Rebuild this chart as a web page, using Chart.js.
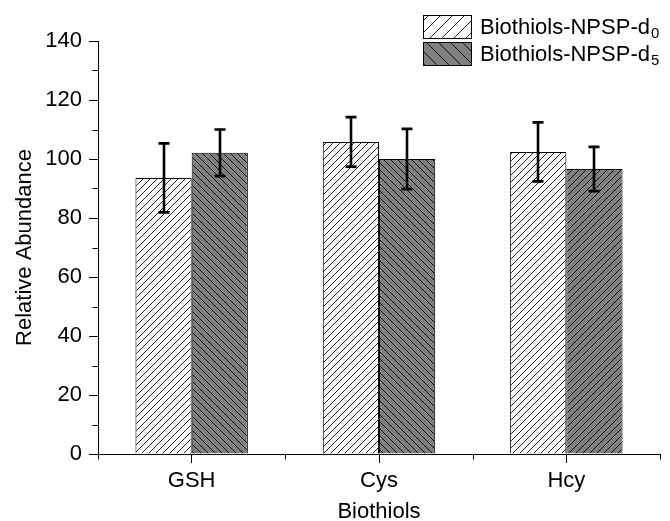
<!DOCTYPE html>
<html><head><meta charset="utf-8">
<script src="https://cdn.jsdelivr.net/npm/chart.js@4.4.1/dist/chart.umd.min.js"></script>
<style>html,body{margin:0;padding:0;background:#fff;} canvas{display:block;}</style>
</head><body>
<canvas id="c" width="670" height="521"></canvas>
<script>
// ---- data ----
const categories = ['GSH', 'Cys', 'Hcy'];
const seriesNames = ['Biothiols-NPSP-d', 'Biothiols-NPSP-d'];
const seriesSubscripts = ['0', '5'];
const d0Values = [93.6, 105.8, 102.4];
const d0Errors = [11.7, 8.4, 10.0];
const d5Values = [102.1, 100.0, 96.6];
const d5Errors = [7.9, 10.2, 7.5];
const yMinorTicks = [10, 30, 50, 70, 90, 110, 130];
const xTitle = 'Biothiols';
const yTitle = 'Relative Abundance';

const FONT = "'Liberation Sans', Arial, sans-serif";
const canvas = document.getElementById('c');
const ctx = canvas.getContext('2d');

function hatch(bg, dir, s, color) {
  const c = document.createElement('canvas');
  c.width = s; c.height = s;
  const g = c.getContext('2d');
  g.fillStyle = bg; g.fillRect(0, 0, s, s);
  g.strokeStyle = color; g.lineWidth = 1;
  g.beginPath();
  if (dir === '/') {
    for (let k = 0; k <= 2; k++) { g.moveTo(-1, k * s + 1); g.lineTo(s + 1, k * s - s - 1); }
  } else {
    for (let k = -1; k <= 1; k++) { g.moveTo(-1, k * s - 1); g.lineTo(s + 1, k * s + s + 1); }
  }
  g.stroke();
  return ctx.createPattern(c, 'repeat');
}

const pWhite = hatch('#ffffff', '/', 7, '#222');
const pGrayBack = hatch('#808080', '\\', 7, '#111');
const pGrayFwd = hatch('#808080', '/', 7, '#111');
const legendPatterns = [hatch('#ffffff', '/', 12, '#222'), hatch('#808080', '\\', 12, '#111')];
const errors = [d0Errors, d5Errors];

const extras = {
  id: 'extras',
  afterDatasetsDraw(chart) {
    const c = chart.ctx, y = chart.scales.y;
    c.save();
    c.strokeStyle = '#000'; c.lineWidth = 2.6;
    chart.data.datasets.forEach((ds, di) => {
      const meta = chart.getDatasetMeta(di);
      meta.data.forEach((bar, i) => {
        const v = ds.data[i], e = errors[di][i];
        const yt = y.getPixelForValue(v + e), yb = y.getPixelForValue(v - e);
        const x = Math.round(bar.x);
        c.beginPath();
        c.moveTo(x, yt); c.lineTo(x, yb);
        c.moveTo(x - 5.5, yt); c.lineTo(x + 5.5, yt);
        c.moveTo(x - 5.5, yb); c.lineTo(x + 5.5, yb);
        c.stroke();
      });
    });
    c.restore();
  },
  afterDraw(chart) {
    const c = chart.ctx, y = chart.scales.y, x = chart.scales.x;
    c.save();
    c.strokeStyle = '#000'; c.lineWidth = 1;
    c.beginPath();
    const ax = Math.round(chart.chartArea.left) + 0.5;
    yMinorTicks.forEach(v => {
      const py = Math.round(y.getPixelForValue(v)) + 0.5;
      c.moveTo(ax - 6, py); c.lineTo(ax, py);
    });
    const by = Math.round(chart.chartArea.bottom) + 0.5;
    for (let i = 0; i <= categories.length; i++) {
      const px = Math.round(x.getPixelForValue(i - 0.5)) + 0.5;
      c.moveTo(px, by); c.lineTo(px, by + 5);
    }
    c.stroke();
    // legend
    const lx = 423, lw = 48, lh = 23, ly = [15, 42];
    seriesNames.forEach((name, i) => {
      c.fillStyle = legendPatterns[i];
      c.fillRect(lx, ly[i], lw, lh);
      c.strokeStyle = '#000'; c.lineWidth = 1;
      c.strokeRect(lx + 0.5, ly[i] + 0.5, lw, lh);
      c.fillStyle = '#000';
      c.textBaseline = 'alphabetic'; c.textAlign = 'left';
      c.font = '22px ' + FONT;
      const base = ly[i] + 19;
      c.fillText(name, 480, base);
      const w = c.measureText(name).width;
      c.font = '15px ' + FONT;
      c.fillText(seriesSubscripts[i], 480 + w + 1, base + 4);
    });
    c.restore();
  }
};

new Chart(ctx, {
  type: 'bar',
  data: {
    labels: categories,
    datasets: [
      { label: seriesNames[0] + seriesSubscripts[0], data: d0Values, backgroundColor: pWhite,
        borderColor: '#000', borderWidth: 1, categoryPercentage: 0.6, barPercentage: 1.0 },
      { label: seriesNames[1] + seriesSubscripts[1], data: d5Values, backgroundColor: [pGrayBack, pGrayBack, pGrayFwd],
        borderColor: '#000', borderWidth: 1, categoryPercentage: 0.6, barPercentage: 1.0 }
    ]
  },
  options: {
    responsive: false,
    animation: false,
    devicePixelRatio: 1,
    layout: { padding: { top: 41, right: 10, left: 0, bottom: 0 } },
    plugins: { legend: { display: false }, tooltip: { enabled: false } },
    scales: {
      x: {
        offset: true,
        grid: { display: true, drawOnChartArea: false, offset: false, tickLength: 9, color: '#000' },
        border: { display: true, color: '#000', width: 1 },
        ticks: { color: '#000', font: { family: FONT, size: 22 }, padding: 5 },
        title: { display: true, text: xTitle, color: '#000', font: { family: FONT, size: 22, lineHeight: 0.85 }, padding: 0 },
        afterFit: s => { s.height = 67; }
      },
      y: {
        min: 0, max: 140,
        ticks: { stepSize: 20, color: '#000', font: { family: FONT, size: 22 }, padding: 7 },
        grid: { display: true, drawOnChartArea: false, tickLength: 9, color: '#000' },
        border: { display: true, color: '#000', width: 1 },
        title: { display: true, text: yTitle, color: '#000', font: { family: FONT, size: 22 }, padding: { top: 12, bottom: 0 } },
        afterFit: s => { s.width = 98; }
      }
    }
  },
  plugins: [extras]
});
</script>
</body></html>
